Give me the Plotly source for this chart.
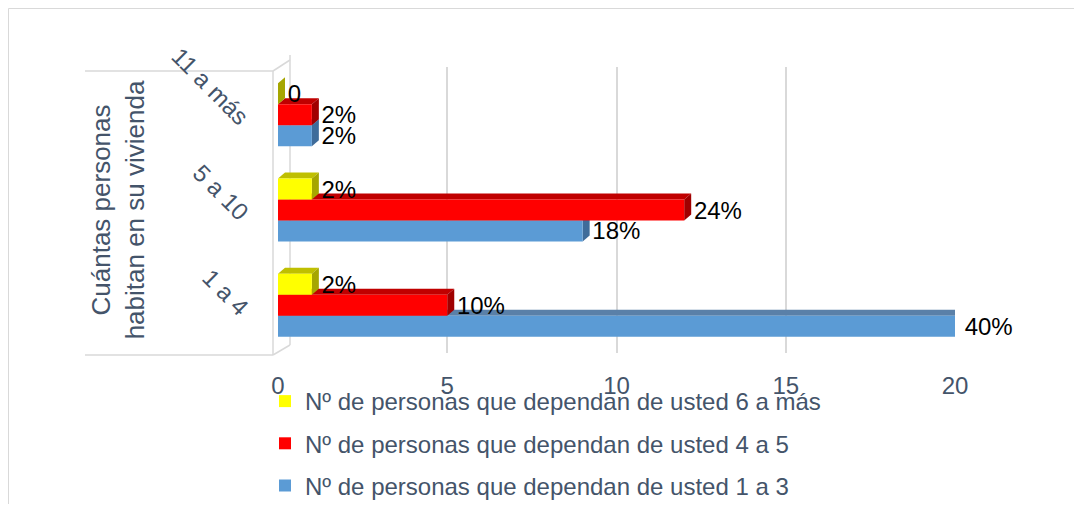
import plotly.graph_objects as go

categories = ["1 a 4", "5 a 10", "11 a más"]
series_names = [
    "Nº de personas que dependan de usted 1 a 3",
    "Nº de personas que dependan de usted 4 a 5",
    "Nº de personas que dependan de usted 6 a más",
]
vals_1a3 = [20, 9, 1]
vals_4a5 = [5, 12, 1]
vals_6mas = [1, 1, 0]
labels_1a3 = ["40%", "18%", "2%"]
labels_4a5 = ["10%", "24%", "2%"]
labels_6mas = ["2%", "2%", "0"]
x_ticks = [0, 5, 10, 15, 20]

series = [vals_1a3, vals_4a5, vals_6mas]
labels = [labels_1a3, labels_4a5, labels_6mas]
front = ["#5B9BD5", "#FF0000", "#FFFF00"]
top_c = ["#5A80A8", "#C00000", "#BFBF00"]
side_c = ["#3F6C9A", "#A00000", "#A6A600"]

OFF = 8  # page body margin
W, H = 1066, 496
L, T = 278 - OFF, 67 - OFF
R = W - (955 - OFF)
B = H - (353 - OFF)
pw, ph = W - L - R, H - T - B
def px(x):
    return (x - OFF - L) / pw
def py(y):
    return (H - B - (y - OFF)) / ph

fig = go.Figure()
for i in range(3):
    fig.add_trace(go.Bar(
        y=categories, x=series[i], orientation="h", name=series_names[i],
        marker=dict(color=front[i], line=dict(width=0)),
        text=["\u00a0" + t for t in labels[i]], textposition="outside", cliponaxis=False,
        constraintext="none",
        textfont=dict(size=24, color="#000000"),
        legendgroup=f"g{i}", legendrank=3 - i,
    ))

bargap = 0.34
bw = (1 - bargap) / 3
dx = 7 / (pw / 20)
dy = 6 / (ph / 3)
shapes = []
for i in range(3):
    for c, v in enumerate(series[i]):
        bot = c - (1 - bargap) / 2 + bw * i
        top = bot + bw
        shapes.append(dict(type="path", xref="x", yref="y", layer="between",
            path=f"M 0,{top} L {v},{top} L {v+dx},{top+dy} L {dx},{top+dy} Z",
            fillcolor=top_c[i], line=dict(width=0)))
        shapes.append(dict(type="path", xref="x", yref="y", layer="between",
            path=f"M {v},{bot} L {v},{top} L {v+dx},{top+dy} L {v+dx},{bot+dy} Z",
            fillcolor=side_c[i], line=dict(width=0)))

wall = "#D9D9D9"
for (x0, y0, x1, y1) in [(85, 71, 273, 71), (85, 355, 273, 355), (273, 71, 273, 355),
                         (273, 355, 290, 345), (290, 55, 290, 345), (273, 71, 290, 60)]:
    shapes.append(dict(type="line", xref="paper", yref="paper", layer="below",
                       x0=px(x0), y0=py(y0), x1=px(x1), y1=py(y1),
                       line=dict(color=wall, width=1.5)))
shapes.append(dict(type="rect", xref="paper", yref="paper", layer="below",
                   x0=px(8.5), y0=py(8.5), x1=px(1074.5), y1=py(530),
                   line=dict(color="#D9D9D9", width=1)))

fig.update_layout(
    width=W, height=H,
    margin=dict(l=L, r=R, t=T, b=B, autoexpand=False),
    paper_bgcolor="white", plot_bgcolor="white",
    font=dict(family="Liberation Sans, Arial, sans-serif", color="#44546A", size=24),
    barmode="group", bargap=bargap, bargroupgap=0,
    shapes=shapes,
    xaxis=dict(range=[0, 20], tickvals=x_ticks, showgrid=True, gridcolor="#D9D9D9",
               gridwidth=1.5, zeroline=False, showline=False,
               ticks="", ticklabelstandoff=16, tickfont=dict(size=24, color="#44546A")),
    yaxis=dict(showgrid=False, zeroline=False, showline=False, ticks="",
               tickangle=45, ticklabelstandoff=30, ticklabelshift=7,
               tickfont=dict(size=24, color="#44546A"),
               title=dict(text="Cuántas personas<br>habitan en su vivienda",
                          font=dict(size=26, color="#44546A"), standoff=14)),
    legend=dict(orientation="v", x=px(265), y=py(379), xanchor="left", yanchor="top",
                traceorder="grouped", tracegroupgap=8,
                font=dict(size=24, color="#44546A"), bgcolor="rgba(0,0,0,0)"),
    showlegend=True,
)

fig.write_html("out.html")
